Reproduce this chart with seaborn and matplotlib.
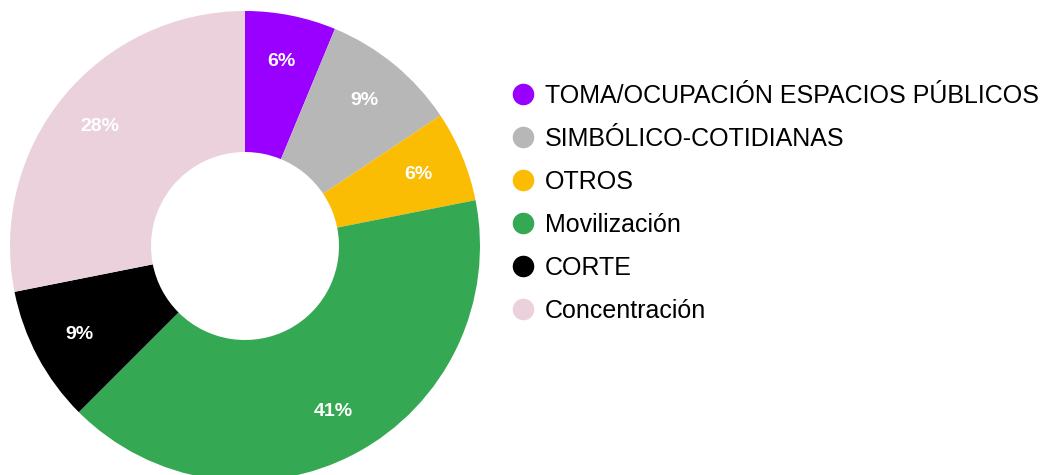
import matplotlib
matplotlib.use("Agg")
import matplotlib.pyplot as plt
from matplotlib.lines import Line2D
import seaborn as sns

categories = ["TOMA/OCUPACIÓN ESPACIOS PÚBLICOS", "SIMBÓLICO-COTIDIANAS", "OTROS",
              "Movilización", "CORTE", "Concentración"]
counts = [2, 3, 2, 13, 3, 9]
colors = ["#9900ff", "#b7b7b7", "#fbbc04", "#34a853", "#000000", "#ead1dc"]

sns.set_theme(style="white")
plt.rcParams['font.family'] = ['Liberation Sans', 'DejaVu Sans']

fig = plt.figure(figsize=(10.56, 4.75), dpi=100)
ax = fig.add_axes([10 / 1056, -6 / 475, 470 / 1056, 470 / 475])

wedges, texts, autotexts = ax.pie(
    counts, colors=colors, startangle=90, counterclock=False,
    autopct=lambda p: f"{p:.0f}%", pctdistance=0.8,
    wedgeprops=dict(width=0.6, linewidth=0),
    textprops=dict(color="white", fontsize=14, fontweight="bold"))
ax.set_xlim(-1, 1)
ax.set_ylim(-1, 1)
ax.set_aspect("equal")
ax.axis("off")

handles = [Line2D([0], [0], marker="o", linestyle="", markersize=14.5,
                  markerfacecolor=c, markeredgecolor=c) for c in colors]
leg = fig.legend(handles, categories, loc="center left",
                 bbox_to_anchor=(500 / 1056, 1 - 203.5 / 475),
                 frameon=False, fontsize=18, handletextpad=0.4, labelspacing=0.76,
                 handlelength=1.0, borderaxespad=0)
for t in leg.get_texts():
    t.set_color("black")

fig.savefig("out.png", dpi=100, facecolor="white")
